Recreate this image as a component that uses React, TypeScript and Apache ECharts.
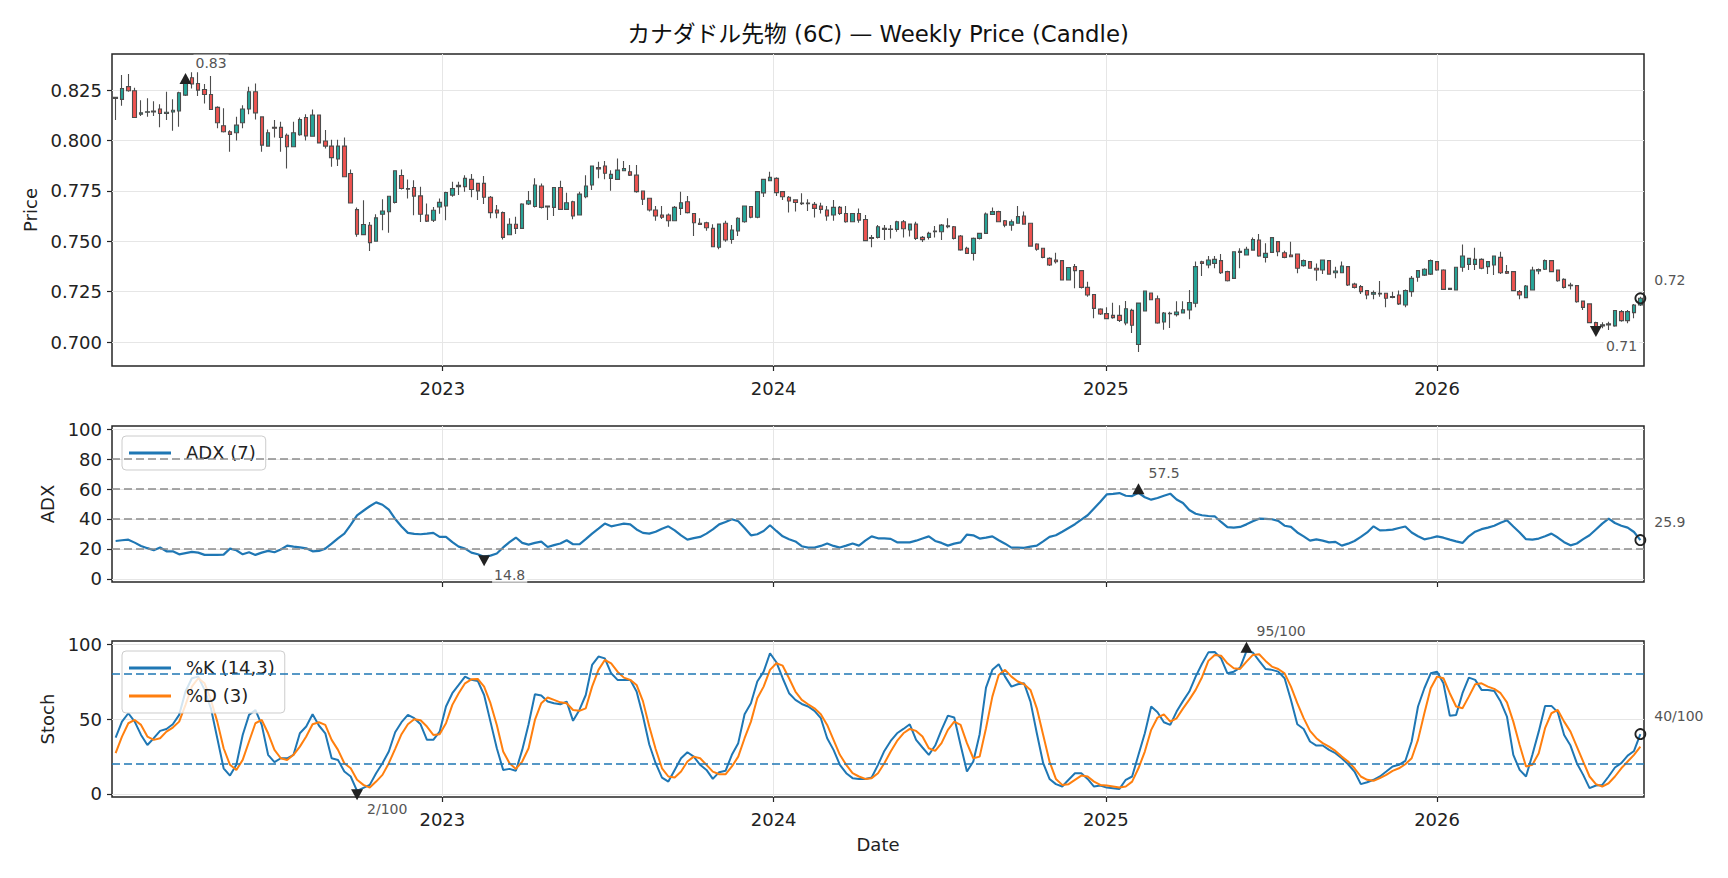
import React, { useEffect, useRef } from 'react';
import * as echarts from 'echarts';

// weekly bars, first one on 2022-01-06
const START = Date.UTC(2022, 0, 6);
const WEEK = 7 * 24 * 3600 * 1000;
const X_MIN = Date.UTC(2022, 0, 2);
const X_MAX = Date.UTC(2026, 7, 17);
const YEAR_TICKS = [2023, 2024, 2025, 2026].map((y) => Date.UTC(y, 0, 1));

const PRICE_TICKS = [0.7, 0.725, 0.75, 0.775, 0.8, 0.825];
const ADX_TICKS = [0, 20, 40, 60, 80, 100];
const STOCH_TICKS = [0, 50, 100];
const ADX_LEVELS = [20, 40, 60, 80];
const STOCH_LEVELS = [20, 80];

const open = [
  0.8209, 0.8204, 0.8267, 0.8247, 0.8130, 0.8140, 0.8146, 0.8156, 0.8134, 0.8141,
  0.8146, 0.8225, 0.8311, 0.8283, 0.8253, 0.8228, 0.8164, 0.8073, 0.8043, 0.8038,
  0.8088, 0.8156, 0.8242, 0.8117, 0.7972, 0.8065, 0.8065, 0.8026, 0.7969, 0.8028,
  0.8114, 0.8021, 0.8126, 0.7997, 0.7972, 0.7908, 0.7972, 0.7836, 0.7657, 0.7533,
  0.7579, 0.7500, 0.7634, 0.7646, 0.7693, 0.7826, 0.7762, 0.7767, 0.7725, 0.7630,
  0.7604, 0.7670, 0.7675, 0.7729, 0.7771, 0.7771, 0.7807, 0.7787, 0.7787, 0.7718,
  0.7655, 0.7642, 0.7532, 0.7584, 0.7564, 0.7685, 0.7672, 0.7774, 0.7674, 0.7668,
  0.7767, 0.7658, 0.7696, 0.7630, 0.7721, 0.7779, 0.7866, 0.7873, 0.7812, 0.7807,
  0.7850, 0.7845, 0.7828, 0.7749, 0.7713, 0.7655, 0.7630, 0.7630, 0.7602, 0.7663,
  0.7696, 0.7638, 0.7589, 0.7592, 0.7564, 0.7470, 0.7589, 0.7509, 0.7551, 0.7597,
  0.7672, 0.7619, 0.7740, 0.7800, 0.7812, 0.7746, 0.7718, 0.7705, 0.7690, 0.7686,
  0.7683, 0.7675, 0.7655, 0.7630, 0.7668, 0.7638, 0.7597, 0.7638, 0.7608, 0.7518,
  0.7519, 0.7559, 0.7561, 0.7559, 0.7597, 0.7556, 0.7585, 0.7519, 0.7519, 0.7547,
  0.7547, 0.7572, 0.7572, 0.7526, 0.7465, 0.7440, 0.7514, 0.7539, 0.7633, 0.7647,
  0.7602, 0.7580, 0.7589, 0.7625, 0.7589, 0.7486, 0.7465, 0.7415, 0.7407, 0.7404,
  0.7308, 0.7374, 0.7354, 0.7271, 0.7236, 0.7163, 0.7141, 0.7132, 0.7132, 0.7094,
  0.7157, 0.6988, 0.7154, 0.7243, 0.7215, 0.7099, 0.7142, 0.7136, 0.7144, 0.7159,
  0.7192, 0.7398, 0.7382, 0.7390, 0.7404, 0.7349, 0.7316, 0.7445, 0.7432, 0.7456,
  0.7506, 0.7420, 0.7445, 0.7498, 0.7443, 0.7432, 0.7437, 0.7379, 0.7399, 0.7366,
  0.7357, 0.7404, 0.7344, 0.7344, 0.7374, 0.7287, 0.7275, 0.7255, 0.7237, 0.7242,
  0.7242, 0.7225, 0.7233, 0.7184, 0.7250, 0.7321, 0.7332, 0.7337, 0.7399, 0.7357,
  0.7266, 0.7258, 0.7371, 0.7385, 0.7385, 0.7410, 0.7374, 0.7382, 0.7420, 0.7349,
  0.7349, 0.7250, 0.7220, 0.7258, 0.7352, 0.7361, 0.7404, 0.7357, 0.7311, 0.7283,
  0.7280, 0.7203, 0.7189, 0.7096, 0.7080, 0.7085, 0.7080, 0.7151, 0.7106, 0.7146,
  0.7184,
];

const close = [
  0.8214, 0.8258, 0.8247, 0.8114, 0.8137, 0.8142, 0.8141, 0.8134, 0.8140, 0.8150,
  0.8237, 0.8287, 0.8280, 0.8250, 0.8228, 0.8154, 0.8088, 0.8043, 0.8030, 0.8076,
  0.8156, 0.8242, 0.8137, 0.7977, 0.8038, 0.8061, 0.8015, 0.7969, 0.8038, 0.8104,
  0.8023, 0.8126, 0.7988, 0.7972, 0.7915, 0.7972, 0.7820, 0.7690, 0.7535, 0.7583,
  0.7493, 0.7616, 0.7650, 0.7723, 0.7850, 0.7762, 0.7758, 0.7724, 0.7634, 0.7600,
  0.7654, 0.7693, 0.7742, 0.7762, 0.7777, 0.7812, 0.7757, 0.7750, 0.7718, 0.7642,
  0.7640, 0.7519, 0.7584, 0.7564, 0.7685, 0.7701, 0.7779, 0.7668, 0.7670, 0.7767,
  0.7658, 0.7691, 0.7625, 0.7734, 0.7774, 0.7873, 0.7859, 0.7837, 0.7832, 0.7853,
  0.7861, 0.7828, 0.7746, 0.7708, 0.7655, 0.7625, 0.7619, 0.7602, 0.7668, 0.7691,
  0.7642, 0.7592, 0.7583, 0.7567, 0.7473, 0.7585, 0.7506, 0.7556, 0.7614, 0.7675,
  0.7619, 0.7746, 0.7807, 0.7817, 0.7741, 0.7721, 0.7700, 0.7692, 0.7686, 0.7690,
  0.7663, 0.7658, 0.7625, 0.7668, 0.7638, 0.7597, 0.7638, 0.7605, 0.7503, 0.7514,
  0.7572, 0.7564, 0.7559, 0.7597, 0.7562, 0.7585, 0.7514, 0.7508, 0.7539, 0.7551,
  0.7580, 0.7576, 0.7514, 0.7457, 0.7440, 0.7514, 0.7539, 0.7635, 0.7647, 0.7597,
  0.7580, 0.7597, 0.7622, 0.7585, 0.7476, 0.7460, 0.7420, 0.7382, 0.7398, 0.7308,
  0.7370, 0.7354, 0.7271, 0.7233, 0.7167, 0.7139, 0.7116, 0.7121, 0.7107, 0.7165,
  0.7083, 0.7193, 0.7253, 0.7210, 0.7094, 0.7144, 0.7140, 0.7149, 0.7160, 0.7196,
  0.7374, 0.7390, 0.7407, 0.7410, 0.7344, 0.7304, 0.7448, 0.7450, 0.7460, 0.7509,
  0.7427, 0.7440, 0.7518, 0.7448, 0.7420, 0.7423, 0.7366, 0.7404, 0.7366, 0.7357,
  0.7407, 0.7337, 0.7352, 0.7377, 0.7283, 0.7271, 0.7250, 0.7233, 0.7245, 0.7238,
  0.7217, 0.7221, 0.7189, 0.7255, 0.7316, 0.7354, 0.7361, 0.7404, 0.7357, 0.7261,
  0.7261, 0.7371, 0.7427, 0.7415, 0.7410, 0.7366, 0.7399, 0.7427, 0.7344, 0.7341,
  0.7255, 0.7233, 0.7278, 0.7357, 0.7360, 0.7404, 0.7349, 0.7304, 0.7271, 0.7279,
  0.7200, 0.7172, 0.7096, 0.7072, 0.7086, 0.7090, 0.7156, 0.7106, 0.7151, 0.7184,
  0.7217,
];

const low = [
  0.8101, 0.8172, 0.8242, 0.8114, 0.8121, 0.8118, 0.8121, 0.8065, 0.8101, 0.8048,
  0.8068, 0.8220, 0.8258, 0.8220, 0.8184, 0.8154, 0.8060, 0.8040, 0.7944, 0.8000,
  0.8060, 0.8130, 0.8104, 0.7944, 0.7972, 0.8015, 0.7944, 0.7861, 0.7969, 0.8023,
  0.8000, 0.8018, 0.7985, 0.7960, 0.7870, 0.7873, 0.7820, 0.7690, 0.7522, 0.7533,
  0.7452, 0.7500, 0.7554, 0.7542, 0.7687, 0.7757, 0.7712, 0.7629, 0.7596, 0.7596,
  0.7596, 0.7637, 0.7604, 0.7721, 0.7729, 0.7746, 0.7718, 0.7705, 0.7685, 0.7614,
  0.7614, 0.7509, 0.7532, 0.7536, 0.7561, 0.7680, 0.7668, 0.7663, 0.7605, 0.7625,
  0.7658, 0.7658, 0.7609, 0.7630, 0.7713, 0.7754, 0.7812, 0.7807, 0.7751, 0.7804,
  0.7850, 0.7824, 0.7741, 0.7680, 0.7647, 0.7602, 0.7610, 0.7572, 0.7602, 0.7630,
  0.7638, 0.7526, 0.7580, 0.7552, 0.7473, 0.7460, 0.7497, 0.7487, 0.7526, 0.7592,
  0.7614, 0.7614, 0.7720, 0.7800, 0.7725, 0.7705, 0.7642, 0.7647, 0.7680, 0.7650,
  0.7618, 0.7638, 0.7602, 0.7602, 0.7630, 0.7592, 0.7597, 0.7592, 0.7503, 0.7470,
  0.7514, 0.7506, 0.7514, 0.7547, 0.7519, 0.7523, 0.7506, 0.7496, 0.7509, 0.7519,
  0.7506, 0.7564, 0.7509, 0.7453, 0.7437, 0.7404, 0.7509, 0.7539, 0.7630, 0.7597,
  0.7569, 0.7552, 0.7589, 0.7585, 0.7476, 0.7453, 0.7415, 0.7377, 0.7390, 0.7308,
  0.7308, 0.7267, 0.7266, 0.7225, 0.7118, 0.7134, 0.7114, 0.7116, 0.7099, 0.7083,
  0.7045, 0.6950, 0.7154, 0.7210, 0.7091, 0.7061, 0.7070, 0.7126, 0.7144, 0.7113,
  0.7172, 0.7328, 0.7366, 0.7366, 0.7337, 0.7300, 0.7316, 0.7366, 0.7432, 0.7456,
  0.7423, 0.7394, 0.7445, 0.7426, 0.7415, 0.7420, 0.7341, 0.7374, 0.7366, 0.7304,
  0.7337, 0.7337, 0.7316, 0.7341, 0.7278, 0.7266, 0.7238, 0.7212, 0.7212, 0.7225,
  0.7172, 0.7217, 0.7184, 0.7172, 0.7225, 0.7299, 0.7327, 0.7332, 0.7354, 0.7258,
  0.7258, 0.7258, 0.7349, 0.7357, 0.7357, 0.7361, 0.7337, 0.7332, 0.7337, 0.7337,
  0.7255, 0.7212, 0.7217, 0.7255, 0.7336, 0.7357, 0.7349, 0.7299, 0.7266, 0.7261,
  0.7195, 0.7159, 0.7093, 0.7060, 0.7068, 0.7060, 0.7076, 0.7101, 0.7093, 0.7118,
  0.7179,
];

const high = [
  0.8216, 0.8325, 0.8330, 0.8262, 0.8200, 0.8209, 0.8195, 0.8180, 0.8242, 0.8205,
  0.8242, 0.8300, 0.8338, 0.8338, 0.8280, 0.8320, 0.8170, 0.8160, 0.8051, 0.8118,
  0.8175, 0.8267, 0.8283, 0.8117, 0.8055, 0.8101, 0.8093, 0.8035, 0.8093, 0.8114,
  0.8130, 0.8154, 0.8126, 0.8052, 0.8003, 0.8003, 0.8015, 0.7856, 0.7667, 0.7703,
  0.7596, 0.7634, 0.7708, 0.7723, 0.7850, 0.7856, 0.7806, 0.7803, 0.7770, 0.7687,
  0.7670, 0.7712, 0.7746, 0.7795, 0.7795, 0.7828, 0.7834, 0.7787, 0.7824, 0.7724,
  0.7680, 0.7647, 0.7614, 0.7622, 0.7688, 0.7749, 0.7812, 0.7787, 0.7674, 0.7767,
  0.7800, 0.7741, 0.7701, 0.7746, 0.7828, 0.7873, 0.7895, 0.7898, 0.7852, 0.7911,
  0.7898, 0.7878, 0.7878, 0.7749, 0.7713, 0.7675, 0.7675, 0.7638, 0.7675, 0.7746,
  0.7724, 0.7638, 0.7614, 0.7597, 0.7584, 0.7585, 0.7602, 0.7581, 0.7619, 0.7675,
  0.7675, 0.7746, 0.7807, 0.7845, 0.7817, 0.7746, 0.7724, 0.7708, 0.7738, 0.7708,
  0.7695, 0.7691, 0.7675, 0.7704, 0.7675, 0.7675, 0.7638, 0.7663, 0.7630, 0.7531,
  0.7580, 0.7580, 0.7580, 0.7602, 0.7605, 0.7585, 0.7597, 0.7526, 0.7547, 0.7576,
  0.7585, 0.7614, 0.7576, 0.7531, 0.7473, 0.7519, 0.7542, 0.7642, 0.7668, 0.7651,
  0.7605, 0.7608, 0.7675, 0.7647, 0.7589, 0.7490, 0.7465, 0.7420, 0.7443, 0.7407,
  0.7370, 0.7387, 0.7357, 0.7299, 0.7236, 0.7167, 0.7172, 0.7195, 0.7182, 0.7203,
  0.7165, 0.7193, 0.7253, 0.7243, 0.7231, 0.7149, 0.7150, 0.7202, 0.7202, 0.7258,
  0.7399, 0.7403, 0.7427, 0.7427, 0.7437, 0.7354, 0.7448, 0.7465, 0.7473, 0.7519,
  0.7536, 0.7490, 0.7518, 0.7498, 0.7453, 0.7498, 0.7437, 0.7410, 0.7399, 0.7390,
  0.7410, 0.7404, 0.7374, 0.7399, 0.7374, 0.7294, 0.7283, 0.7258, 0.7255, 0.7303,
  0.7242, 0.7250, 0.7255, 0.7261, 0.7327, 0.7357, 0.7366, 0.7410, 0.7399, 0.7361,
  0.7266, 0.7374, 0.7484, 0.7415, 0.7468, 0.7415, 0.7399, 0.7427, 0.7448, 0.7382,
  0.7349, 0.7258, 0.7283, 0.7374, 0.7365, 0.7410, 0.7404, 0.7357, 0.7316, 0.7294,
  0.7283, 0.7203, 0.7189, 0.7100, 0.7098, 0.7101, 0.7159, 0.7159, 0.7159, 0.7189,
  0.7225,
];

const adx = [
  25.3, 25.8, 26.2, 24.2, 22.0, 20.5, 19.1, 20.9, 18.4, 18.4,
  16.4, 17.2, 18.0, 17.5, 16.0, 16.0, 16.0, 16.2, 20.2, 19.1,
  16.4, 17.8, 16.0, 17.5, 18.7, 17.8, 19.6, 22.2, 21.5, 21.0,
  20.4, 18.4, 18.7, 20.2, 23.5, 27.0, 30.2, 36.0, 42.4, 45.5,
  48.5, 51.1, 49.5, 46.2, 40.0, 35.0, 30.7, 30.0, 29.8, 30.2,
  30.7, 28.0, 28.0, 24.5, 21.5, 20.2, 17.5, 16.4, 14.8, 15.5,
  16.9, 21.0, 24.5, 27.6, 24.0, 22.9, 24.0, 24.9, 21.3, 22.5,
  23.6, 25.8, 23.1, 23.1, 26.5, 30.2, 33.5, 36.9, 35.1, 36.0,
  36.9, 36.4, 33.0, 30.7, 30.2, 31.5, 33.5, 35.1, 32.4, 29.0,
  26.2, 27.2, 28.0, 30.2, 33.0, 36.4, 38.0, 39.8, 38.5, 34.0,
  29.1, 29.8, 32.0, 35.8, 32.0, 28.4, 26.5, 25.0, 21.8, 20.9,
  20.9, 22.0, 23.6, 22.0, 20.9, 22.2, 23.6, 22.2, 25.5, 28.4,
  27.1, 27.1, 26.7, 24.4, 24.4, 24.4, 25.5, 27.0, 28.4, 25.3,
  24.0, 22.2, 23.5, 24.4, 29.6, 29.1, 26.9, 27.5, 28.4, 25.8,
  23.5, 20.9, 20.8, 20.7, 21.5, 22.2, 25.0, 28.0, 29.1, 31.5,
  34.0, 36.5, 39.5, 42.5, 47.0, 51.5, 56.4, 56.8, 57.3, 55.5,
  55.3, 57.5, 54.5, 52.9, 54.0, 55.5, 56.9, 53.0, 50.7, 46.0,
  43.5, 42.5, 42.0, 41.8, 38.0, 34.5, 34.2, 34.7, 36.4, 38.5,
  40.2, 40.0, 39.8, 38.7, 35.5, 34.7, 31.0, 28.4, 25.5, 26.4,
  25.5, 24.4, 24.7, 22.2, 23.5, 25.3, 28.0, 31.0, 35.1, 32.4,
  32.6, 32.9, 34.0, 35.0, 31.0, 28.5, 26.4, 27.3, 28.4, 27.5,
  26.2, 25.0, 24.0, 28.4, 31.5, 33.2, 34.2, 35.5, 37.5, 39.1,
  35.0, 31.0, 26.5, 26.2, 26.9, 28.5, 30.2, 27.6, 24.5, 22.4,
  23.6, 26.5, 29.1, 33.0, 36.9, 40.2, 37.3, 35.5, 34.2, 31.3,
  25.9,
];

const stochK = [
  37.6, 48.3, 53.9, 48.3, 39.4, 32.7, 37.2, 42.1, 43.4, 46.5,
  52.8, 68.4, 77.3, 78.4, 69.5, 57.2, 37.2, 17.1, 12.2, 19.4,
  39.4, 52.8, 56.1, 46.1, 26.1, 21.2, 23.8, 23.8, 26.1, 40.5,
  45.0, 53.2, 45.7, 40.5, 23.8, 22.7, 14.9, 11.6, 2.0, 4.0,
  6.0, 13.8, 20.5, 28.3, 41.2, 47.9, 52.8, 50.6, 46.5, 36.1,
  36.1, 41.6, 58.4, 67.3, 72.8, 78.4, 76.2, 75.5, 66.1, 48.3,
  30.5, 16.0, 16.7, 15.4, 29.4, 46.5, 66.6, 65.7, 61.7, 60.6,
  59.9, 61.7, 48.8, 56.1, 66.1, 86.2, 91.8, 90.6, 80.6, 76.2,
  76.2, 76.2, 68.4, 52.0, 33.0, 20.5, 10.9, 8.2, 16.0, 23.8,
  27.8, 24.9, 19.4, 16.0, 10.0, 14.5, 15.4, 26.1, 33.9, 53.2,
  60.6, 75.1, 81.7, 94.0, 88.0, 77.3, 67.3, 62.8, 60.1, 58.4,
  55.5, 50.6, 37.2, 29.4, 19.4, 13.8, 10.5, 10.0, 10.0, 10.9,
  19.4, 28.7, 35.4, 40.5, 43.4, 46.5, 36.1, 31.0, 26.1, 32.3,
  42.8, 52.3, 51.0, 32.7, 14.9, 21.6, 39.9, 71.0, 82.9, 86.6,
  78.4, 71.7, 73.3, 73.9, 61.7, 40.5, 20.5, 10.0, 6.5, 4.9,
  9.4, 13.8, 13.8, 10.0, 4.9, 5.6, 4.2, 3.8, 3.3, 9.4,
  11.6, 26.1, 40.5, 58.4, 54.6, 47.9, 46.1, 55.0, 62.0, 68.4,
  78.4, 87.0, 94.6, 94.8, 90.6, 80.6, 81.7, 84.4, 95.4, 94.5,
  88.9, 83.5, 82.9, 81.7, 77.3, 62.8, 46.5, 43.4, 35.0, 32.3,
  32.3, 29.4, 27.2, 23.8, 19.8, 14.9, 6.5, 7.8, 9.4, 11.6,
  14.9, 18.3, 19.4, 22.0, 35.0, 58.4, 70.6, 80.6, 81.7, 73.9,
  52.3, 52.8, 67.3, 77.7, 76.2, 69.5, 69.5, 68.8, 61.7, 51.7,
  26.1, 16.0, 11.6, 26.1, 41.6, 58.8, 58.8, 54.6, 39.4, 32.3,
  20.5, 12.7, 3.8, 5.6, 6.0, 11.6, 17.6, 20.5, 25.6, 28.7,
  40.0,
];

const stochD = [
  27.2, 38.3, 47.2, 49.4, 46.1, 38.3, 36.1, 37.2, 41.6, 44.3,
  48.3, 59.5, 71.7, 77.3, 73.9, 62.8, 48.3, 30.5, 19.4, 16.0,
  22.7, 35.0, 47.2, 49.4, 40.5, 29.4, 23.8, 22.7, 26.1, 31.6,
  38.3, 46.5, 47.9, 46.1, 36.1, 29.4, 20.5, 17.1, 9.4, 6.0,
  4.2, 8.2, 12.7, 20.5, 30.1, 39.9, 46.5, 49.9, 49.2, 45.0,
  39.4, 39.9, 47.2, 59.5, 67.3, 73.9, 76.6, 76.8, 71.7, 60.6,
  46.1, 28.3, 20.5, 16.7, 21.6, 30.5, 49.4, 60.6, 64.4, 62.8,
  61.2, 60.6, 56.1, 55.5, 57.2, 71.7, 82.9, 89.5, 87.3, 81.7,
  77.7, 76.2, 72.8, 62.0, 45.0, 30.0, 17.1, 11.6, 10.9, 14.9,
  21.6, 24.9, 23.8, 19.4, 14.9, 13.1, 13.1, 18.3, 24.9, 37.2,
  48.3, 63.9, 71.7, 82.9, 87.3, 85.7, 77.3, 68.4, 62.8, 59.9,
  57.2, 53.2, 46.1, 36.1, 26.1, 19.4, 13.8, 11.6, 10.0, 10.5,
  13.8, 20.5, 28.3, 35.4, 40.5, 43.4, 42.1, 38.3, 30.5, 28.7,
  33.9, 42.8, 48.3, 46.1, 33.9, 23.8, 24.9, 43.9, 65.0, 79.5,
  82.9, 78.4, 75.1, 73.3, 69.5, 57.2, 39.4, 21.6, 10.0, 6.0,
  6.5, 9.4, 12.2, 11.6, 8.2, 6.0, 5.6, 4.9, 4.2, 4.9,
  8.2, 17.1, 28.3, 42.8, 51.0, 53.2, 48.3, 50.5, 57.0, 63.0,
  69.5, 78.0, 88.9, 92.9, 92.4, 87.3, 84.0, 83.5, 88.4, 92.9,
  93.3, 88.9, 85.1, 83.5, 80.6, 71.7, 60.6, 50.6, 42.1, 37.2,
  33.9, 31.6, 28.7, 24.9, 21.6, 17.1, 11.6, 9.4, 8.7, 10.5,
  12.7, 15.4, 17.1, 19.8, 23.8, 36.1, 53.9, 70.6, 78.4, 77.3,
  67.3, 58.4, 57.2, 65.0, 73.3, 73.9, 71.7, 70.2, 67.3, 61.2,
  48.3, 32.7, 18.3, 19.4, 27.2, 43.9, 53.9, 56.1, 48.3, 41.6,
  31.6, 21.6, 11.6, 6.5, 4.9, 7.1, 11.6, 17.1, 21.6, 26.1,
  31.6,
];

const dates = close.map((_, i) => START + i * WEEK);

const FONT = '"DejaVu Sans", "Noto Sans CJK JP", sans-serif';
const FS = 18;
const INK = '#262626';
const UP = '#26a69a';
const DOWN = '#ef5350';
const EDGE = '#4d4d4d';
const BLUE = '#1f77b4';
const ORANGE = '#ff7f0e';
const DOWN_TRI = 'path://M0,0L10,0L5,9Z';

const argMax = (a: number[]) => a.reduce((b, v, i) => (v > a[b] ? i : b), 0);
const argMin = (a: number[]) => a.reduce((b, v, i) => (v < a[b] ? i : b), 0);

const noteLabel = {
  show: true,
  position: 'right',
  fontSize: 14,
  color: '#555',
  fontFamily: FONT,
  backgroundColor: 'rgba(255,255,255,0.75)',
  padding: [1, 2],
};

// max ▲, min ▼ and last-value ring for one series
function notes(values: number[], fmt: (v: number) => string) {
  const hi = argMax(values);
  const lo = argMin(values);
  const last = values.length - 1;
  return {
    silent: true,
    label: noteLabel,
    data: [
      {
        coord: [dates[hi], values[hi]],
        symbol: 'triangle',
        symbolSize: [12, 11],
        symbolOffset: [0, -4],
        itemStyle: { color: '#222' },
        label: { formatter: fmt(values[hi]), distance: 2, offset: [0, -16] },
      },
      {
        coord: [dates[lo], values[lo]],
        symbol: DOWN_TRI,
        symbolSize: [12, 11],
        symbolOffset: [0, 4],
        itemStyle: { color: '#222' },
        label: { formatter: fmt(values[lo]), distance: 2, offset: [0, 14] },
      },
      {
        coord: [dates[last], values[last]],
        symbol: 'circle',
        symbolSize: 10,
        itemStyle: { color: 'rgba(255,255,255,0)', borderColor: '#222', borderWidth: 1.8 },
        label: { formatter: fmt(values[last]), distance: 6, offset: [0, -18] },
      },
    ],
  };
}

const levels = (vals: number[], color: string) => ({
  silent: true,
  symbol: 'none',
  label: { show: false },
  lineStyle: { color, width: 1.5, type: [8, 4] },
  data: vals.map((v) => ({ yAxis: v })),
});

const gridBox = { left: 112, width: 1532, show: true, borderColor: INK, borderWidth: 1.5, outerBoundsMode: 'none' };

const xAxisFor = (gridIndex: number, showLabel: boolean, name?: string) => ({
  type: 'value',
  gridIndex,
  min: X_MIN,
  max: X_MAX,
  axisLine: { show: false, onZero: false },
  axisTick: { show: true, customValues: YEAR_TICKS, length: 5, lineStyle: { color: INK, width: 1.2 } },
  axisLabel: {
    show: showLabel,
    customValues: YEAR_TICKS,
    formatter: (v: number) => String(new Date(v).getUTCFullYear()),
    fontSize: FS,
    color: '#222',
    fontFamily: FONT,
    margin: 13,
  },
  splitLine: { show: true, lineStyle: { color: '#e6e6e6', width: 1 } },
  name,
  nameLocation: 'middle',
  nameGap: 38,
  nameTextStyle: { fontSize: FS, color: '#222', fontFamily: FONT },
});

const yAxisFor = (gridIndex: number, min: number, max: number, ticks: number[], name: string, nameGap: number, fmt: (v: number) => string) => ({
  type: 'value',
  gridIndex,
  min,
  max,
  axisLine: { show: false },
  axisTick: { show: true, customValues: ticks, length: 5, lineStyle: { color: INK, width: 1.2 } },
  axisLabel: { customValues: ticks, formatter: fmt, fontSize: FS, color: '#222', fontFamily: FONT, margin: 10 },
  splitLine: { show: true, lineStyle: { color: '#e6e6e6', width: 1 } },
  name,
  nameLocation: 'middle',
  nameRotate: 90,
  nameGap,
  nameTextStyle: { fontSize: FS, color: '#222', fontFamily: FONT },
});

const legendBase = {
  orient: 'vertical',
  left: 122,
  icon: 'rect',
  itemWidth: 42,
  itemHeight: 3,
  itemGap: 10,
  padding: [8, 10, 8, 7],
  backgroundColor: 'rgba(255,255,255,0.8)',
  borderColor: '#cccccc',
  borderWidth: 1,
  borderRadius: 4,
  textStyle: { fontSize: FS, color: '#222', fontFamily: FONT, padding: [0, 0, 0, 10] },
};

const Chart: React.FC = () => {
  const chartRef = useRef<HTMLDivElement>(null);

  useEffect(() => {
    if (!chartRef.current) return;
    const chart = echarts.init(chartRef.current, null, { renderer: 'svg' });

    const option = {
      animation: false,
      backgroundColor: '#ffffff',
      textStyle: { fontFamily: FONT },
      graphic: [
        {
          type: 'text',
          x: 878,
          y: 34,
          style: {
            text: 'カナダドル先物 (6C) — Weekly Price (Candle)',
            textAlign: 'center',
            textVerticalAlign: 'middle',
            fontSize: 22.8,
            fontFamily: FONT,
            fill: '#111',
          },
        },
      ],
      grid: [
        { ...gridBox, top: 54, height: 312 },
        { ...gridBox, top: 426, height: 156 },
        { ...gridBox, top: 641, height: 156 },
      ],
      xAxis: [xAxisFor(0, true), xAxisFor(1, false), xAxisFor(2, true, 'Date')],
      yAxis: [
        yAxisFor(0, 0.6881, 0.8429, PRICE_TICKS, 'Price', 72, (v) => v.toFixed(3)),
        yAxisFor(1, -2.1, 102.1, ADX_TICKS, 'ADX', 56, (v) => String(v)),
        yAxisFor(2, -2.1, 102.2, STOCH_TICKS, 'Stoch', 56, (v) => String(v)),
      ],
      legend: [
        { ...legendBase, top: 436, data: ['ADX (7)'] },
        { ...legendBase, top: 651, data: ['%K (14,3)', '%D (3)'] },
      ],
      series: [
        {
          name: 'Price',
          type: 'candlestick',
          xAxisIndex: 0,
          yAxisIndex: 0,
          barWidth: 4,
          itemStyle: { color: UP, color0: DOWN, borderColor: EDGE, borderColor0: EDGE, borderWidth: 1.1 },
          data: dates.map((t, i) => [t, open[i], close[i], low[i], high[i]]),
          markPoint: notes(close, (v) => v.toFixed(2)),
        },
        {
          name: 'ADX (7)',
          type: 'line',
          xAxisIndex: 1,
          yAxisIndex: 1,
          showSymbol: false,
          itemStyle: { color: BLUE },
          lineStyle: { color: BLUE, width: 2.2 },
          data: dates.map((t, i) => [t, adx[i]]),
          markLine: levels(ADX_LEVELS, '#8c8c8c'),
          markPoint: notes(adx, (v) => v.toFixed(1)),
        },
        {
          name: '%K (14,3)',
          type: 'line',
          xAxisIndex: 2,
          yAxisIndex: 2,
          showSymbol: false,
          itemStyle: { color: BLUE },
          lineStyle: { color: BLUE, width: 2 },
          data: dates.map((t, i) => [t, stochK[i]]),
          markLine: levels(STOCH_LEVELS, BLUE),
          markPoint: notes(stochK, (v) => `${Math.round(v)}/100`),
        },
        {
          name: '%D (3)',
          type: 'line',
          xAxisIndex: 2,
          yAxisIndex: 2,
          showSymbol: false,
          itemStyle: { color: ORANGE },
          lineStyle: { color: ORANGE, width: 2 },
          data: dates.map((t, i) => [t, stochD[i]]),
        },
      ],
    };

    chart.setOption(option as any);

    return () => {
      chart.dispose();
    };
  }, []);

  return (
    <div
      ref={chartRef}
      style={{ position: 'fixed', left: 0, top: 0, width: '1728px', height: '878px', background: '#fff' }}
    />
  );
};

export default function App() {
  return <Chart />;
}
